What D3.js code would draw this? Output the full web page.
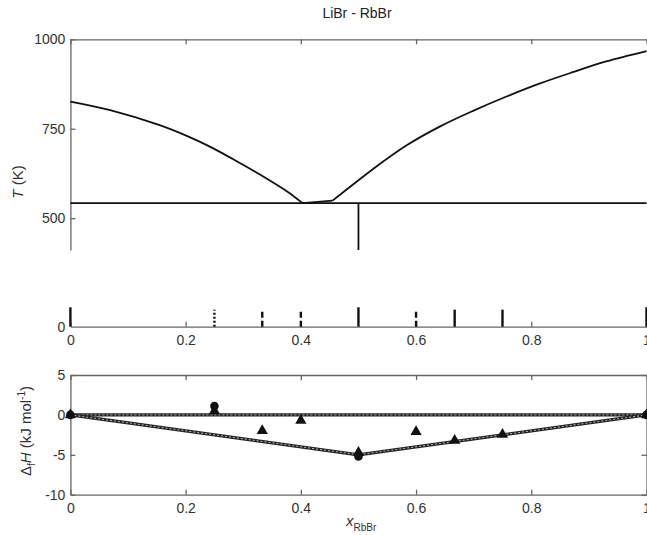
<!DOCTYPE html>
<html>
<head>
<meta charset="utf-8">
<script src="https://cdn.jsdelivr.net/npm/d3@7"></script>
<style>
  body { margin: 0; background: #fff; }
  svg { display: block; font-family: "Liberation Sans", Arial, sans-serif; }
  .axis path, .axis line { stroke: #666; stroke-width: 1.3; }
  .axis text { fill: #333; font-size: 14px; font-family: "Liberation Sans", Arial, sans-serif; }
  .curve { fill: none; stroke: #111; stroke-width: 1.8; }
</style>
</head>
<body>
<svg id="chart" width="647" height="535"></svg>
<script>
// phase diagram (T in K)
const liqLeftX = [0, 0.069, 0.155, 0.202, 0.242, 0.288, 0.329, 0.375, 0.403];
const liqLeftT = [826, 802, 760, 730, 700, 660, 622, 576, 542];
const liqMidX = [0.403, 0.455];
const liqMidT = [542, 549];
const liqRightX = [0.455, 0.525, 0.583, 0.641, 0.699, 0.757, 0.814, 0.872, 0.93, 1];
const liqRightT = [549, 637, 703, 756, 800, 840, 876, 908, 938, 967];
const solidusT = 542;
const compoundX = 0.5;

// compounds bar strip
const stickX = [0, 0.25, 0.333, 0.4, 0.5, 0.6, 0.667, 0.75, 1];
const stickKind = ["pure", "dotted", "dashed", "dashed", "pure", "dashed", "solid", "solid", "pure"];

// enthalpy of formation (kJ/mol)
const triX = [0, 0.25, 0.333, 0.4, 0.5, 0.6, 0.667, 0.75, 1];
const triH = [0, 0.5, -2.0, -0.7, -4.7, -2.1, -3.2, -2.45, 0];
const circX = [0, 0.25, 0.5, 1];
const circH = [0, 1.1, -5.2, 0];
const zeroLineX = [0, 1];
const zeroLineH = [0, 0];
const modelX = [0, 0.5, 1];
const modelH = [0, -5, 0];

const xTicks = [0, 0.2, 0.4, 0.6, 0.8, 1];
const tTicks = [500, 750, 1000];
const hTicks = [-10, -5, 0, 5];

const svg = d3.select("#chart");
const x = d3.scaleLinear().domain([0, 1]).range([70.4, 646.5]);
const fmt = d => String(d);

// ---- top: phase diagram
const yT = d3.scaleLinear().domain([411, 1000]).range([250, 39.3]);

svg.append("g").attr("class", "axis")
  .attr("transform", `translate(${x(0)},0)`)
  .call(d3.axisLeft(yT).tickValues(tTicks).tickSize(-5).tickSizeOuter(0).tickPadding(5).tickFormat(fmt));
svg.append("g").attr("class", "axis")
  .attr("transform", `translate(0,${yT(1000)})`)
  .call(d3.axisTop(x).tickValues(xTicks).tickSize(-5).tickSizeOuter(0).tickFormat(""));

const lineT = d3.line().x(d => x(d[0])).y(d => yT(d[1]));
svg.append("path").attr("class", "curve")
  .datum(d3.zip(liqLeftX, liqLeftT)).attr("d", lineT.curve(d3.curveCatmullRom));
svg.append("path").attr("class", "curve")
  .datum(d3.zip(liqMidX, liqMidT)).attr("d", d3.line().x(d => x(d[0])).y(d => yT(d[1])));
svg.append("path").attr("class", "curve")
  .datum(d3.zip(liqRightX, liqRightT)).attr("d", lineT.curve(d3.curveCatmullRom));
svg.append("line").attr("class", "curve")
  .attr("x1", x(0)).attr("x2", x(1)).attr("y1", yT(solidusT)).attr("y2", yT(solidusT));
svg.append("line").attr("class", "curve")
  .attr("x1", x(compoundX)).attr("x2", x(compoundX)).attr("y1", yT(solidusT)).attr("y2", yT(411));

svg.append("text").attr("x", 357).attr("y", 18).attr("text-anchor", "middle")
  .attr("font-size", 14).attr("fill", "#222").text("LiBr - RbBr");

svg.append("text").attr("transform", "translate(23,182) rotate(-90)")
  .attr("text-anchor", "middle").attr("font-size", 15).attr("fill", "#333")
  .call(t => {
    t.append("tspan").attr("font-style", "italic").text("T");
    t.append("tspan").text(" (K)");
  });

// ---- middle: compound strip
const yS = d3.scaleLinear().domain([0, 1]).range([326.7, 307.3]);
const stickHeight = k => k === "pure" ? 1 : 0.88;
const stickDash = { pure: null, solid: null, dashed: "6,3", dotted: "2,2" };

svg.append("g").attr("class", "axis")
  .attr("transform", `translate(0,${yS(0)})`)
  .call(d3.axisBottom(x).tickValues(xTicks).tickSize(-5).tickSizeOuter(0).tickPadding(8).tickFormat(fmt));
svg.append("g").attr("class", "axis")
  .attr("transform", `translate(${x(0)},0)`)
  .call(d3.axisLeft(yS).tickValues([0]).tickSize(0).tickPadding(5).tickFormat(fmt))
  .call(g => g.select(".domain").remove());

svg.append("g").selectAll("line")
  .data(d3.zip(stickX, stickKind))
  .join("line")
  .attr("x1", d => x(d[0])).attr("x2", d => x(d[0]))
  .attr("y1", yS(0)).attr("y2", d => yS(stickHeight(d[1])))
  .attr("stroke", "#111").attr("stroke-width", 2.4)
  .attr("stroke-dasharray", d => stickDash[d[1]]);

// ---- bottom: enthalpy of formation
const yH = d3.scaleLinear().domain([-10, 5]).range([494.7, 375]);

svg.append("g").attr("class", "axis")
  .attr("transform", `translate(0,${yH(-10)})`)
  .call(d3.axisBottom(x).tickValues(xTicks).tickSize(-5).tickSizeOuter(0).tickPadding(8).tickFormat(fmt));
svg.append("g").attr("class", "axis")
  .attr("transform", `translate(0,${yH(5)})`)
  .call(d3.axisTop(x).tickValues(xTicks).tickSize(-5).tickSizeOuter(0).tickFormat(""));
svg.append("g").attr("class", "axis")
  .attr("transform", `translate(${x(0)},0)`)
  .call(d3.axisLeft(yH).tickValues(hTicks).tickSize(-5).tickSizeOuter(0).tickPadding(5).tickFormat(fmt));
svg.append("g").attr("class", "axis")
  .attr("transform", `translate(${x(1)},0)`)
  .call(d3.axisRight(yH).tickValues(hTicks).tickSize(-5).tickSizeOuter(0).tickFormat(""));

const lineH = d3.line().x(d => x(d[0])).y(d => yH(d[1]));
for (const pts of [d3.zip(zeroLineX, zeroLineH), d3.zip(modelX, modelH)]) {
  svg.append("path").datum(pts).attr("d", lineH)
    .attr("fill", "none").attr("stroke", "#222").attr("stroke-width", 3.2);
  svg.append("path").datum(pts).attr("d", lineH)
    .attr("fill", "none").attr("stroke", "#bbb").attr("stroke-width", 1).attr("stroke-dasharray", "2,2");
}

svg.append("g").selectAll("path")
  .data(d3.zip(triX, triH))
  .join("path")
  .attr("transform", d => `translate(${x(d[0])},${yH(d[1])})`)
  .attr("d", d3.symbol(d3.symbolTriangle, 55))
  .attr("fill", "#111");
svg.append("g").selectAll("circle")
  .data(d3.zip(circX, circH))
  .join("circle")
  .attr("cx", d => x(d[0])).attr("cy", d => yH(d[1]))
  .attr("r", 4.3).attr("fill", "#111");

svg.append("text").attr("transform", "translate(31,431) rotate(-90)")
  .attr("text-anchor", "middle").attr("font-size", 15).attr("fill", "#333")
  .call(t => {
    t.append("tspan").text("Δ");
    t.append("tspan").attr("font-size", 10).attr("dy", 4).text("f");
    t.append("tspan").attr("font-style", "italic").attr("dy", -4).text("H");
    t.append("tspan").text(" (kJ mol");
    t.append("tspan").attr("font-size", 10).attr("dy", -6).text("-1");
    t.append("tspan").attr("dy", 6).text(")");
  });

svg.append("text").attr("x", 346).attr("y", 526).attr("fill", "#333").attr("font-size", 15)
  .call(t => {
    t.append("tspan").attr("font-style", "italic").text("x");
    t.append("tspan").attr("font-size", 10).attr("dy", 5).text("RbBr");
  });
</script>
</body>
</html>
